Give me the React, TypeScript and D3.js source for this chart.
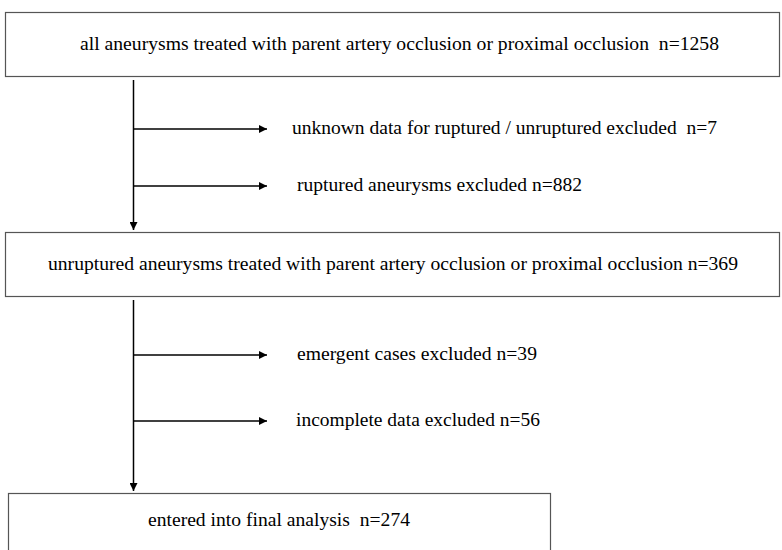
import React, { useEffect, useRef } from "react";
import * as d3 from "d3";

// flow chart content
const boxLabels = [
  "all aneurysms treated with parent artery occlusion or proximal occlusion  n=1258",
  "unruptured aneurysms treated with parent artery occlusion or proximal occlusion n=369",
  "entered into final analysis  n=274",
];
const exclusionLabels = [
  ["unknown data for ruptured / unruptured excluded  n=7", "ruptured aneurysms excluded n=882"],
  ["emergent cases excluded n=39", "incomplete data excluded n=56"],
];

const W = 782;
const H = 550;

// keep double spaces visible
const keepSpaces = (s: string) => s.replace(/  /g, " \u00a0");

const App = () => {
  const ref = useRef<SVGSVGElement>(null);

  useEffect(() => {
    const svg = d3.select(ref.current);
    svg.selectAll("*").remove();

    // layout of boxes
    const boxes = [
      { x: 5, y: 12, w: 774, h: 64 },
      { x: 5, y: 232, w: 774, h: 64 },
      { x: 8, y: 493, w: 542, h: 80 },
    ];
    const boxText = [
      { x: 80, y: 50, len: 639 },
      { x: 48, y: 270, len: 690 },
      { x: 148, y: 526, len: 262 },
    ];
    const branchY = [
      [129, 186],
      [355, 421],
    ];
    const spineX = 133.5;
    const arrowEnd = 267;
    const labelPos = [
      [{ x: 292, len: 425 }, { x: 297, len: 285 }],
      [{ x: 297, len: 240 }, { x: 296, len: 244 }],
    ];

    svg.append("defs").append("marker")
      .attr("id", "head")
      .attr("viewBox", "0 0 10 10")
      .attr("refX", 10)
      .attr("refY", 5)
      .attr("markerWidth", 8)
      .attr("markerHeight", 8)
      .attr("markerUnits", "userSpaceOnUse")
      .attr("orient", "auto")
      .append("path")
      .attr("d", "M0,0L10,5L0,10Z")
      .attr("fill", "#000");

    const g = svg.append("g")
      .style("font-family", "'Liberation Serif', 'Times New Roman', serif")
      .attr("font-size", 19)
      .attr("fill", "#000");

    g.selectAll("rect.box")
      .data(boxes)
      .enter().append("rect")
      .attr("class", "box")
      .attr("x", d => d.x + 0.5)
      .attr("y", d => d.y + 0.5)
      .attr("width", d => d.w)
      .attr("height", d => d.h)
      .attr("fill", "#fff")
      .attr("stroke", "#555")
      .attr("stroke-width", 1.2);

    g.selectAll("text.box")
      .data(boxLabels)
      .enter().append("text")
      .attr("class", "box")
      .attr("x", (d, i) => boxText[i].x)
      .attr("y", (d, i) => boxText[i].y)
      .attr("textLength", (d, i) => boxText[i].len)
      .attr("lengthAdjust", "spacingAndGlyphs")
      .text(d => keepSpaces(d));

    // vertical connectors
    [0, 1].forEach(i => {
      const y0 = boxes[i].y + boxes[i].h + 4;
      const y1 = boxes[i + 1].y - 2;
      g.append("line")
        .attr("x1", spineX).attr("x2", spineX)
        .attr("y1", y0).attr("y2", y1)
        .attr("stroke", "#000")
        .attr("stroke-width", 1.5)
        .attr("marker-end", "url(#head)");

      exclusionLabels[i].forEach((lab, j) => {
        const y = branchY[i][j];
        g.append("line")
          .attr("x1", spineX).attr("x2", arrowEnd)
          .attr("y1", y).attr("y2", y)
          .attr("stroke", "#000")
          .attr("stroke-width", 1.5)
          .attr("marker-end", "url(#head)");
        g.append("text")
          .attr("x", labelPos[i][j].x)
          .attr("y", y + 5)
          .attr("textLength", labelPos[i][j].len)
          .attr("lengthAdjust", "spacingAndGlyphs")
          .text(keepSpaces(lab));
      });
    });
  }, []);

  return (
    <svg ref={ref} width={W} height={H}
      style={{ position: "absolute", left: 0, top: 0, background: "#fff" }} />
  );
};

export default App;
